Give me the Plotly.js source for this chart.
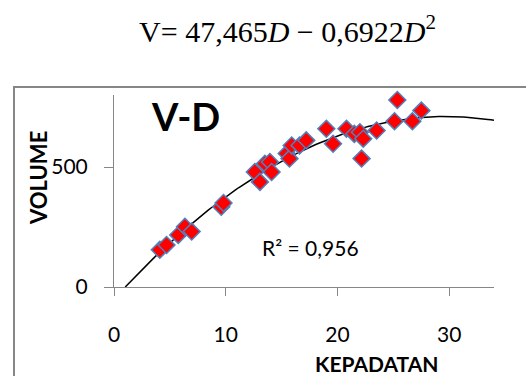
<!DOCTYPE html>
<html>
<head>
<meta charset="utf-8">
<script src="https://cdn.plot.ly/plotly-3.0.1.min.js"></script>
<style>html,body{margin:0;padding:0;background:#fff;}#chart{width:526px;height:376px;}</style>
</head>
<body>
<div id="chart"></div>
<script>
// Data
var kepadatan = [4.1, 4.7, 5.75, 6.35, 6.95, 9.6, 9.8, 12.6, 13.06, 13.5, 13.95, 14.1, 15.45, 15.7, 15.9, 16.6, 17.2, 19.0, 19.6, 20.8, 21.5, 22.0, 22.15, 22.3, 23.5, 25.1, 25.35, 26.7, 27.5];
var volume    = [155, 175, 217, 251, 231, 334, 350, 479, 438, 514, 521, 479, 556, 535, 590, 590, 611, 659, 597, 659, 638, 645, 535, 618, 652, 691, 779, 691, 735];
var xTickVals = [0, 10, 20, 30];
var yTickVals = [0, 500];
var equationText = "V= 47,465<i>D</i> − 0,6922<i>D</i><sup>2</sup>";
var r2Text = "R² = 0,956";

// Least-squares quadratic trend line (like the spreadsheet's polynomial trendline)
function quadFit(xs, ys) {
  var S = [0,0,0,0,0], T = [0,0,0];
  for (var i = 0; i < xs.length; i++) {
    var p = 1;
    for (var k = 0; k < 5; k++) { S[k] += p; if (k < 3) T[k] += p * ys[i]; p *= xs[i]; }
  }
  var A = [[S[0],S[1],S[2],T[0]],[S[1],S[2],S[3],T[1]],[S[2],S[3],S[4],T[2]]];
  for (var c = 0; c < 3; c++) {
    for (var r = c + 1; r < 3; r++) {
      var f = A[r][c] / A[c][c];
      for (var k2 = c; k2 < 4; k2++) A[r][k2] -= f * A[c][k2];
    }
  }
  var sol = [0,0,0];
  for (var r3 = 2; r3 >= 0; r3--) {
    var s = A[r3][3];
    for (var k3 = r3 + 1; k3 < 3; k3++) s -= A[r3][k3] * sol[k3];
    sol[r3] = s / A[r3][r3];
  }
  return sol; // c0, c1, c2
}
var coef = quadFit(kepadatan, volume);
var root = (-coef[1] + Math.sqrt(coef[1]*coef[1] - 4*coef[2]*coef[0])) / (2*coef[2]);
var trendX = [], trendY = [];
var x0 = Math.max(0, root), x1 = 34;
for (var i = 0; i <= 120; i++) {
  var x = x0 + (x1 - x0) * i / 120;
  trendX.push(x);
  trendY.push(coef[0] + coef[1]*x + coef[2]*x*x);
}

var L = 114, R = 32, T = 95, B = 89, W = 526, H = 376;
var PW = W - L - R, PH = H - T - B;
function px(p) { return (p - L) / PW; }
function py(p) { return (H - B - p) / PH; }

var traces = [
  {
    x: trendX, y: trendY, mode: 'lines', type: 'scatter',
    line: {color: '#000000', width: 1.5}, hoverinfo: 'skip', showlegend: false
  },
  {
    x: kepadatan, y: volume, mode: 'markers', type: 'scatter',
    marker: {symbol: 'diamond', size: 13, color: '#ff0000', line: {color: '#4f81bd', width: 1.5}},
    cliponaxis: false, showlegend: false
  }
];

var gray = '#868686';
var layout = {
  width: W, height: H,
  margin: {l: L, r: R, t: T, b: B, pad: 0},
  paper_bgcolor: '#ffffff', plot_bgcolor: '#ffffff',
  font: {family: 'Lato, sans-serif', color: '#000000'},
  title: {
    text: equationText,
    font: {family: 'Liberation Serif, serif', size: 30, color: '#000000'},
    x: 287.5 / W, xanchor: 'center', xref: 'container',
    y: 1 - 31 / H, yanchor: 'middle', yref: 'container'
  },
  xaxis: {
    range: [0, 34], tickvals: xTickVals, ticktext: xTickVals.map(String),
    showgrid: false, zeroline: false, showline: true, linecolor: gray, linewidth: 1,
    ticks: 'outside', ticklen: 8, tickcolor: gray, tickwidth: 1,
    tickfont: {family: 'Lato, sans-serif', size: 21, color: '#000000'},
    ticklabelstandoff: 21
  },
  yaxis: {
    range: [0, 800], tickvals: yTickVals, ticktext: yTickVals.map(String),
    showgrid: false, zeroline: false, showline: true, linecolor: gray, linewidth: 1,
    ticks: 'outside', ticklen: 9, tickcolor: gray, tickwidth: 1,
    tickfont: {family: 'Lato, sans-serif', size: 21, color: '#000000'},
    ticklabelstandoff: 12
  },
  shapes: [
    {type: 'rect', xref: 'paper', yref: 'paper',
     x0: px(14), x1: px(540), y0: py(390), y1: py(87),
     line: {color: gray, width: 2}, fillcolor: 'rgba(0,0,0,0)', layer: 'below'}
  ],
  annotations: [
    {text: '<b>V-D</b>', xref: 'paper', yref: 'paper', x: px(185), y: py(116),
     xanchor: 'center', yanchor: 'middle', showarrow: false,
     font: {family: 'Lato, sans-serif', size: 38, color: '#000000'}},
    {text: r2Text, xref: 'paper', yref: 'paper', x: px(310), y: py(247),
     xanchor: 'center', yanchor: 'middle', showarrow: false,
     font: {family: 'Lato, sans-serif', size: 21, color: '#000000'}},
    {text: '<b>VOLUME</b>', xref: 'paper', yref: 'paper', x: px(38), y: py(178),
     xanchor: 'center', yanchor: 'middle', textangle: -90, showarrow: false,
     font: {family: 'Lato, sans-serif', size: 22, color: '#000000'}},
    {text: '<b>KEPADATAN</b>', xref: 'paper', yref: 'paper', x: px(376), y: py(363),
     xanchor: 'center', yanchor: 'middle', showarrow: false,
     font: {family: 'Lato, sans-serif', size: 21, color: '#000000'}}
  ]
};

Plotly.newPlot('chart', traces, layout, {staticPlot: true, displayModeBar: false});
</script>
</body>
</html>
